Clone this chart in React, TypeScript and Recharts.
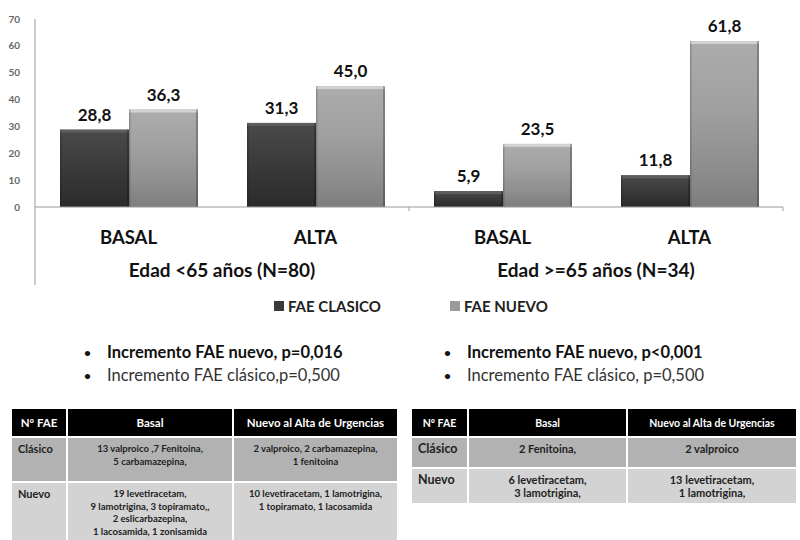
import { BarChart, Bar, XAxis, YAxis, LabelList } from 'recharts'

const categories = ['BASAL', 'ALTA', 'BASAL', 'ALTA']
const groups = ['Edad <65 años (N=80)', 'Edad >=65 años (N=34)']
const faeClasico = [28.8, 31.3, 5.9, 11.8]
const faeNuevo = [36.3, 45.0, 23.5, 61.8]
const yTicks = [0, 10, 20, 30, 40, 50, 60, 70]
const seriesNames = ['FAE CLASICO', 'FAE NUEVO']
const swatchColors = ['#3a3a3a', '#9a9a9a']

const notesYoung = [
  { text: 'Incremento FAE nuevo, p=0,016', bold: true },
  { text: 'Incremento FAE clásico,p=0,500', bold: false },
]
const notesOld = [
  { text: 'Incremento FAE nuevo, p<0,001', bold: true },
  { text: 'Incremento FAE clásico, p=0,500', bold: false },
]

const tableHeader = ['Nº FAE', 'Basal', 'Nuevo al Alta de Urgencias']
const tableYoung = [
  ['Clásico', '13 valproico ,7 Fenitoina,\n5 carbamazepina,', '2 valproico,  2 carbamazepina,\n1 fenitoina'],
  [
    'Nuevo',
    '19 levetiracetam,\n9 lamotrigina,  3 topiramato,,\n2 eslicarbazepina,\n1 lacosamida,  1 zonisamida',
    '10 levetiracetam,  1 lamotrigina,\n1 topiramato, 1 lacosamida',
  ],
]
const tableOld = [
  ['Clásico', '2 Fenitoina,', '2  valproico'],
  ['Nuevo', '6 levetiracetam,\n3 lamotrigina,', '13 levetiracetam,\n1 lamotrigina,'],
]

const data = categories.map((cat, i) => ({ cat, clasico: faeClasico[i], nuevo: faeNuevo[i] }))

const fmt = (v: any) => Number(v).toFixed(1).replace('.', ',')

const barShape = (gradId: string, cap: string) => (props: any) => {
  const { x, y, width, height } = props
  if (!height || height <= 0) return <g />
  return (
    <g>
      <rect x={x} y={y} width={width} height={height} fill={`url(#${gradId})`} />
      <rect x={x} y={y} width={width} height={Math.min(3, height)} fill={cap} />
      <rect x={x} y={y} width={1.5} height={height} fill='rgba(0,0,0,0.18)' />
      <rect x={x + width - 2} y={y} width={2} height={height} fill='rgba(0,0,0,0.25)' />
    </g>
  )
}

function CategoryTick(props: any) {
  const { x, y, payload, index, width, visibleTicksCount } = props
  const half = payload.offset ?? width / visibleTicksCount / 2
  const group = index % 2 === 0 ? groups[index / 2] : null
  return (
    <g>
      <text x={x} y={y + 37} textAnchor='middle' fontSize={18.5} fontWeight={700} fill='#111'>
        {payload.value}
      </text>
      {group && (
        <text x={x + half} y={y + 70} textAnchor='middle' fontSize={19} fontWeight={700} fill='#111'>
          {group}
        </text>
      )}
      {index === 0 && <line x1={x - half} x2={x - half} y1={y} y2={y + 78} stroke='#9a9a9a' />}
      {index === 2 && <line x1={x - half} x2={x - half} y1={y} y2={y + 4} stroke='#9a9a9a' />}
      {index === 3 && <line x1={x + half} x2={x + half} y1={y} y2={y + 4} stroke='#9a9a9a' />}
    </g>
  )
}

function FaeTable({ rows, left, colWidths, fontSize, headSize, rowHeights }: any) {
  const cell = (extra: any = {}) => ({
    boxSizing: 'border-box' as const,
    padding: '5px 3px 2px',
    borderRight: '2px solid #fff',
    borderBottom: '2px solid #fff',
    verticalAlign: 'top',
    whiteSpace: 'pre-line' as const,
    overflow: 'hidden',
    ...extra,
  })
  return (
    <table
      style={{
        position: 'absolute',
        left,
        top: 409,
        borderCollapse: 'collapse',
        tableLayout: 'fixed',
        width: colWidths.reduce((a: number, b: number) => a + b, 0),
        fontWeight: 700,
        color: '#222',
      }}
    >
      <colgroup>
        {colWidths.map((w: number, i: number) => (
          <col key={i} style={{ width: w }} />
        ))}
      </colgroup>
      <tbody>
        <tr style={{ height: 28, background: '#000', color: '#fff', fontSize: headSize }}>
          {tableHeader.map((h, i) => (
            <td key={h} style={cell({ textAlign: 'center', verticalAlign: 'middle', padding: '0 3px' })}>
              {h}
            </td>
          ))}
        </tr>
        {rows.map((r: string[], ri: number) => (
          <tr key={ri} style={{ height: rowHeights[ri], background: ri === 0 ? '#b2b2b2' : '#d3d3d3', lineHeight: '12.5px' }}>
            {r.map((c, ci) => (
              <td key={ci} style={cell({ textAlign: ci === 0 ? 'left' : 'center', paddingLeft: ci === 0 ? 6 : 3, fontSize: ci === 0 ? fontSize + 1.5 : fontSize })}>
                {c}
              </td>
            ))}
          </tr>
        ))}
      </tbody>
    </table>
  )
}

function Notes({ notes, left }: any) {
  return (
    <div style={{ position: 'absolute', left, top: 341, fontSize: 16.5 }}>
      {notes.map((n: any) => (
        <div key={n.text} style={{ display: 'flex', height: 23, lineHeight: '23px', color: n.bold ? '#111' : '#333', fontWeight: n.bold ? 700 : 400 }}>
          <span style={{ width: 23, fontSize: 12, fontWeight: 700, color: '#111' }}>•</span>
          <span>{n.text}</span>
        </div>
      ))}
    </div>
  )
}

export default function App() {
  return (
    <div style={{ position: 'absolute', left: 0, top: 0, width: 800, height: 540, background: '#fff', fontFamily: 'Lato, sans-serif', overflow: 'hidden' }}>
      <BarChart
        width={800}
        height={300}
        data={data}
        margin={{ top: 19, right: 17, left: 5, bottom: 13 }}
        barCategoryGap={25}
        barGap={0}
        style={{ position: 'absolute', left: 0, top: 0 }}
      >
        <defs>
          <linearGradient id='gradClasico' x1='0' y1='0' x2='0' y2='1'>
            <stop offset='0%' stopColor='#4a4a4a' />
            <stop offset='50%' stopColor='#3a3a3a' />
            <stop offset='100%' stopColor='#2b2b2b' />
          </linearGradient>
          <linearGradient id='gradNuevo' x1='0' y1='0' x2='0' y2='1'>
            <stop offset='0%' stopColor='#acacac' />
            <stop offset='40%' stopColor='#a0a0a0' />
            <stop offset='75%' stopColor='#8e8e8e' />
            <stop offset='100%' stopColor='#7e7e7e' />
          </linearGradient>
        </defs>
        <XAxis
          dataKey='cat'
          height={80}
          tickLine={false}
          tickSize={0}
          tickMargin={0}
          axisLine={{ stroke: '#9a9a9a' }}
          tick={<CategoryTick />}
          interval={0}
        />
        <YAxis
          width={30}
          domain={[0, 70]}
          ticks={yTicks}
          tickLine={false}
          tickMargin={9}
          axisLine={{ stroke: '#9a9a9a' }}
          tick={{ fontSize: 10, fill: '#666', fontWeight: 700 }}
        />
        <Bar dataKey='clasico' name={seriesNames[0]} isAnimationActive={false} shape={barShape('gradClasico', '#5e5e5e')}>
          <LabelList dataKey='clasico' position='top' offset={9} formatter={fmt} style={{ fontSize: 17, fontWeight: 700, fill: '#111' }} />
        </Bar>
        <Bar dataKey='nuevo' name={seriesNames[1]} isAnimationActive={false} shape={barShape('gradNuevo', '#d2d2d2')}>
          <LabelList dataKey='nuevo' position='top' offset={9} formatter={fmt} style={{ fontSize: 17, fontWeight: 700, fill: '#111' }} />
        </Bar>
      </BarChart>

      {seriesNames.map((name, i) => (
        <div key={name} style={{ position: 'absolute', top: 298, left: i === 0 ? 274 : 450, display: 'flex', alignItems: 'center', height: 16, fontSize: 15, fontWeight: 700, color: '#222' }}>
          <span style={{ width: 10, height: 10, background: swatchColors[i], marginRight: 4, display: 'inline-block' }} />
          {name}
        </div>
      ))}

      <Notes notes={notesYoung} left={84} />
      <Notes notes={notesOld} left={444} />

      <FaeTable rows={tableYoung} left={12} colWidths={[55, 166, 165]} fontSize={9.5} headSize={11.5} rowHeights={[45, 60]} />
      <FaeTable rows={tableOld} left={412} colWidths={[56, 159, 170]} fontSize={11} headSize={10.5} rowHeights={[31, 36]} />
    </div>
  )
}
